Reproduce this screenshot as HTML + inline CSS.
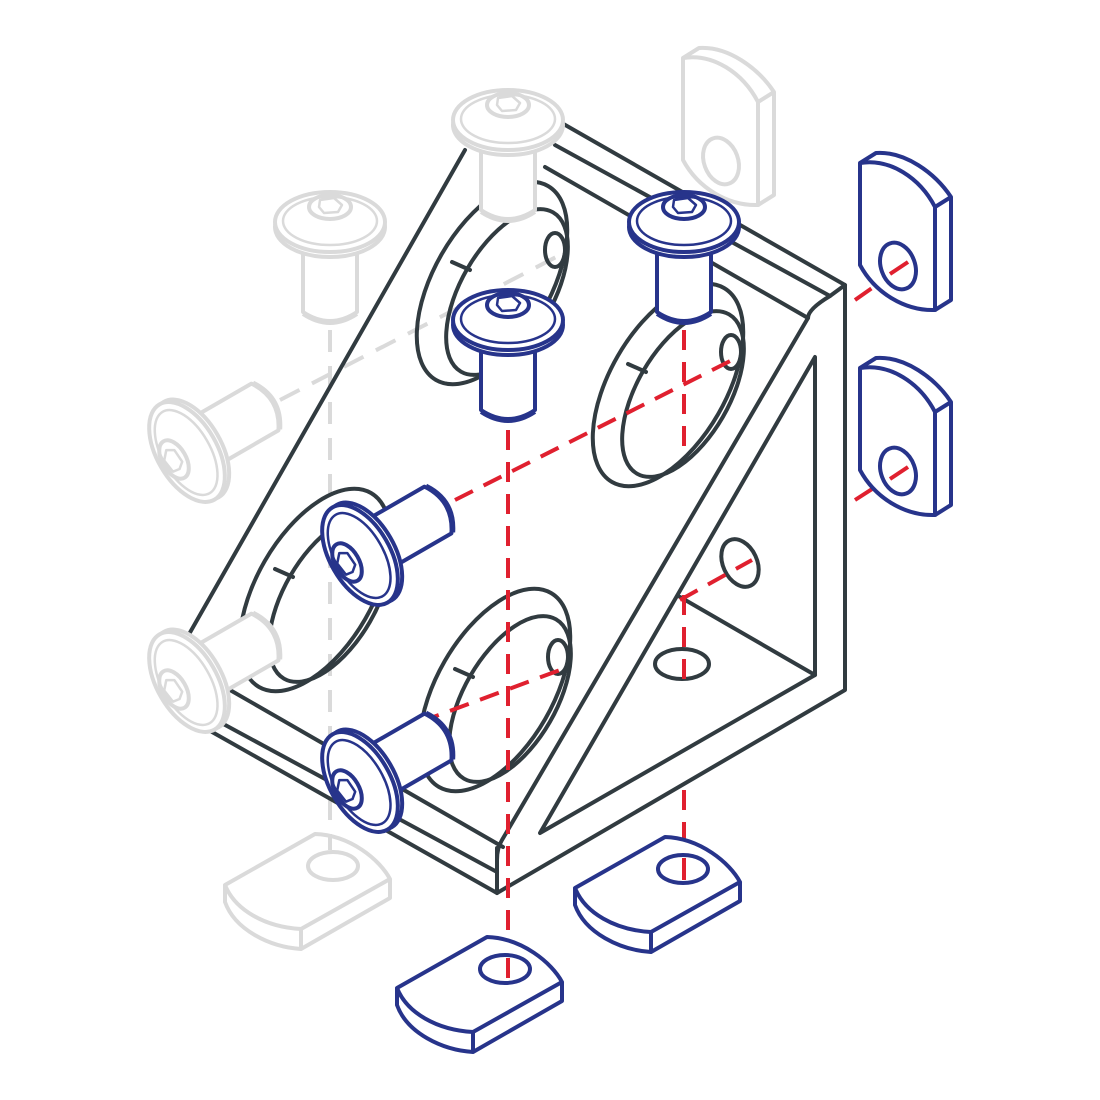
<!DOCTYPE html>
<html><head><meta charset="utf-8"><style>html,body{margin:0;padding:0;background:#fff}svg{display:block}</style></head>
<body>
<svg width="1100" height="1100" viewBox="0 0 1100 1100" xmlns="http://www.w3.org/2000/svg">
<defs>
<g id="vs">
  <path d="M-27,22 L-27,90 Q0,108 27,90 L27,22" fill="#fff"/>
  <path d="M-27,92 Q0,110 27,92" fill="none"/>
  <ellipse cx="0" cy="5" rx="55" ry="30" fill="#fff"/>
  <ellipse cx="0" cy="0" rx="55" ry="30" fill="#fff"/>
  <ellipse cx="0" cy="-1" rx="47" ry="24" fill="none" stroke-width="2.5"/>
  <ellipse cx="0" cy="-15" rx="21" ry="12" fill="none"/>
  <path d="M-10,-22 L4,-24 L12,-17 L8,-10 L-6,-9 L-11,-15 Z" fill="none" stroke-width="2.5"/>
</g>
<g id="vn">
  <path d="M0,0 C30,-5 60,15 75,44 L75,147 C45,148 15,130 0,102 Z" fill="#fff"/>
  <path d="M75,44 L91,34 L91,137 L75,147 M0,0 L16,-10 C45,-12 75,10 91,34" fill="none"/>
  <ellipse cx="38" cy="103" rx="17" ry="24" transform="rotate(-20 38 103)" fill="none"/>
</g>
<g id="hn">
  <path d="M0,0 L90,-51 C125,-50 155,-25 165,-6 L76,44 C40,42 10,25 0,0 Z" fill="#fff"/>
  <path d="M0,0 L0,17 C10,45 45,62 76,64 L76,44 M76,64 L165,13 L165,-6" fill="none"/>
  <ellipse cx="108" cy="-19" rx="25" ry="14" fill="none"/>
</g>
</defs>

<g stroke="#dadada" stroke-width="4" fill="none" stroke-linejoin="round">
  <use href="#vn" transform="translate(683,58)"/>
  <use href="#hn" transform="translate(225,885)"/>
  <path d="M330,330 L330,850" stroke-dasharray="22 14"/>
  <path d="M280,400 L560,255" stroke-dasharray="22 14"/>
</g>

<g stroke="#313b40" stroke-width="4" fill="none" stroke-linejoin="round" stroke-linecap="round">
  <path d="M465,150 L188,636"/>
  <path d="M560,122 L845,285 L845,690 L497,893 L497,848"/>
  <path d="M555,145 L830,296 L845,285"/>
  <path d="M545,167 L808,318"/>
  <path d="M830,296 C815,305 808,312 808,318 L502,840 Q497,848 497,860"/>
  <path d="M815,357 L815,675 L540,833 Z"/>
  <path d="M680,597 L815,675"/>
  <path d="M230,690 L503,847"/>
  <path d="M216,720 L497,872"/>
  <path d="M205,728 L497,893"/>
  <ellipse cx="740" cy="563" rx="17" ry="25" transform="rotate(-25 740 563)"/>
  <ellipse cx="682" cy="664" rx="27" ry="15"/>
  <g id="slot">
    <ellipse cx="492" cy="283" rx="112" ry="58" transform="rotate(-60 492 283)"/>
    <ellipse cx="507" cy="292" rx="92" ry="46" transform="rotate(-60 507 292)"/>
    <ellipse cx="555" cy="250" rx="10" ry="17"/>
    <path d="M452,262 L470,270"/>
  </g>
  <use href="#slot" transform="translate(176,102)"/>
  <use href="#slot" transform="translate(-177,307)"/>
  <use href="#slot" transform="translate(3,407)"/>
</g>

<g stroke="#e0202f" stroke-width="4" fill="none" stroke-dasharray="20 12">
  <path d="M508,430 L508,975"/>
  <path d="M684,330 L684,450"/>
  <path d="M684,595 L684,680"/>
  <path d="M684,790 L684,880"/>
  <path d="M455,500 L740,356"/>
  <path d="M420,722 L560,670"/>
  <path d="M680,600 L752,560"/>
  <path d="M855,300 L905,265"/>
  <path d="M855,500 L905,468"/>
</g>

<g stroke="#dadada" stroke-width="4" stroke-linejoin="round">
  <use href="#vs" transform="translate(508,120)"/>
  <use href="#vs" transform="translate(330,222)"/>
  <use href="#vs" transform="translate(187,452) rotate(-120)"/>
  <use href="#vs" transform="translate(187,682) rotate(-120)"/>
</g>

<g stroke="#27348b" stroke-width="4" stroke-linejoin="round">
  <use href="#vs" transform="translate(684,222)"/>
  <use href="#vs" transform="translate(508,320)"/>
  <use href="#vs" transform="translate(360,555) rotate(-120)"/>
  <use href="#vs" transform="translate(360,782) rotate(-120)"/>
  <use href="#vn" transform="translate(860,163)"/>
  <use href="#vn" transform="translate(860,368)"/>
  <use href="#hn" transform="translate(397,988)"/>
  <use href="#hn" transform="translate(575,888)"/>
</g>

<g stroke="#e0202f" stroke-width="4" fill="none">
  <path d="M890,274 L908,262"/>
  <path d="M890,479 L908,467"/>
  <path d="M508,958 L508,978"/>
  <path d="M684,858 L684,880"/>
</g>
</svg>
</body></html>
